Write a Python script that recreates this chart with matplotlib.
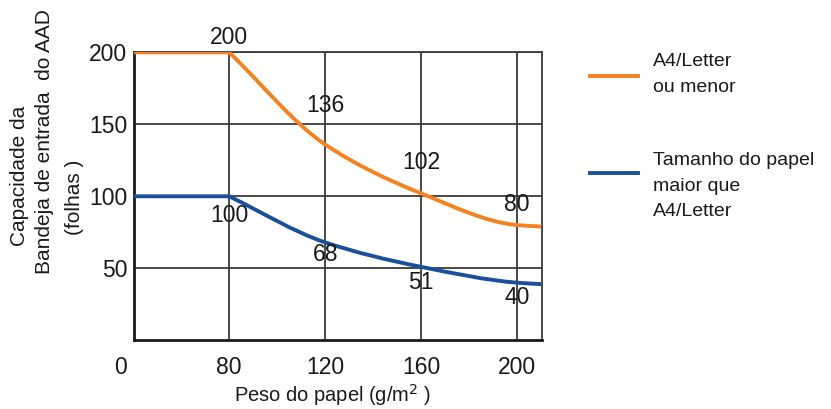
import numpy as np
import matplotlib
matplotlib.use("Agg")
import matplotlib.pyplot as plt
from matplotlib.path import Path
from matplotlib.patches import PathPatch

plt.rcParams['font.family'] = ['Liberation Sans', 'DejaVu Sans']

# Paper weight (g/m2) and feeder capacity (sheets)
weights = [0, 80, 120, 160, 200, 210]
cap_small = [200, 200, 136, 102, 80, 79]      # A4/Letter or smaller
cap_large = [100, 100, 68, 51, 40, 39]        # larger than A4/Letter
labeled_weights = [80, 120, 160, 200]
labels_small = [200, 136, 102, 80]
labels_large = [100, 68, 51, 40]
xticks = [80, 120, 160, 200]
yticks = [50, 100, 150, 200]

# vertical placement of the value labels (points, relative to the value)
offsets_small = [11, 28, 22, 15]
offsets_large = [-14, -9, -11.5, -10.5]

ORANGE = '#f58220'
BLUE = '#1b4f9c'
GRID = '#3a3a3a'
TEXT = '#1a1a1a'

# Compressed x range below 80 g/m2
K = 0.495


def fwd(x):
    x = np.asarray(x, dtype=float)
    return np.where(x >= 80, x, 80 - (80 - x) * K)


def inv(x):
    x = np.asarray(x, dtype=float)
    return np.where(x >= 80, x, 80 - (80 - x) / K)


def smooth_path(xs, ys):
    """Flat start, then a monotone cubic (PCHIP tangents) as Bezier segments."""
    xs = np.asarray(xs, float)
    ys = np.asarray(ys, float)
    verts = [(xs[0], ys[0]), (xs[1], ys[1])]
    codes = [Path.MOVETO, Path.LINETO]
    cx, cy = xs[1:], ys[1:]
    n = len(cx)
    h = np.diff(cx)
    d = np.diff(cy) / h
    m = np.zeros(n)
    m[0] = d[0]
    m[-1] = d[-1]
    for k in range(1, n - 1):
        w1 = 2 * h[k] + h[k - 1]
        w2 = h[k] + 2 * h[k - 1]
        m[k] = (w1 + w2) / (w1 / d[k - 1] + w2 / d[k])
    for i in range(n - 1):
        verts += [(cx[i] + h[i] / 3, cy[i] + m[i] * h[i] / 3),
                  (cx[i + 1] - h[i] / 3, cy[i + 1] - m[i + 1] * h[i] / 3),
                  (cx[i + 1], cy[i + 1])]
        codes += [Path.CURVE4] * 3
    return Path(verts, codes)


fig = plt.figure(figsize=(8.31, 4.09), dpi=100)
ax = fig.add_axes([0.1613, 0.168, 0.4909, 0.7041])
ax.set_xscale('function', functions=(fwd, inv))
ax.set_xlim(0, 210.3)
ax.set_ylim(0, 200)

for s in ['left', 'bottom']:
    ax.spines[s].set_linewidth(2.0)
    ax.spines[s].set_color(TEXT)
for s in ['top', 'right']:
    ax.spines[s].set_linewidth(1.3)
    ax.spines[s].set_color(GRID)

ax.set_xticks(xticks)
ax.set_xticklabels([str(v) for v in xticks])
ax.set_yticks(yticks)
ax.set_yticklabels([str(v) for v in yticks])
ax.tick_params(length=0, labelsize=16.5, colors=TEXT, pad=11)
ax.tick_params(axis='y', pad=5)
ax.grid(True, color=GRID, linewidth=1.3)
ax.set_axisbelow(True)

# origin label at the lower-left corner
ax.text(-0.032, -0.055, '0', transform=ax.transAxes, ha='center', va='top',
        fontsize=16.5, color=TEXT)

for ys, col in [(cap_small, ORANGE), (cap_large, BLUE)]:
    patch = PathPatch(smooth_path(weights, ys), facecolor='none',
                      edgecolor=col, linewidth=2.8, capstyle='butt',
                      zorder=3, clip_on=True)
    ax.add_patch(patch)

for vals, offs in [(labels_small, offsets_small), (labels_large, offsets_large)]:
    for x, v, dy in zip(labeled_weights, vals, offs):
        ax.annotate(str(v), (x, v), xytext=(0, dy), textcoords='offset points',
                    ha='center', va='center', fontsize=16.5, color=TEXT,
                    zorder=4)

# x axis title
fig.text(333 / 831, 1 - 395 / 409, r'Peso do papel (g/m$^{2}$ )', ha='center',
         va='center', fontsize=14.5, color=TEXT)

# y axis title, three rotated lines
for txt, px, py in [('Capacidade da', 20, 176),
                    ('Bandeja de entrada  do AAD', 45, 142),
                    ('(folhas )', 74, 197)]:
    fig.text(px / 831, 1 - py / 409, txt, rotation=90, ha='center',
             va='center', fontsize=15, color=TEXT)

# legend drawn at figure level
for col, ly, lines in [(ORANGE, 75.7, [('A4/Letter', 62), ('ou menor', 88)]),
                       (BLUE, 172.7, [('Tamanho do papel', 160.7),
                                      ('maior que', 186.5),
                                      ('A4/Letter', 212)])]:
    fig.add_artist(plt.Line2D([590 / 831, 638 / 831], [1 - ly / 409] * 2,
                              color=col, linewidth=2.8))
    for t, ty in lines:
        fig.text(653 / 831, 1 - ty / 409, t, ha='left', va='center',
                 fontsize=14, color=TEXT)

fig.savefig('out.png', dpi=100, facecolor='white')
